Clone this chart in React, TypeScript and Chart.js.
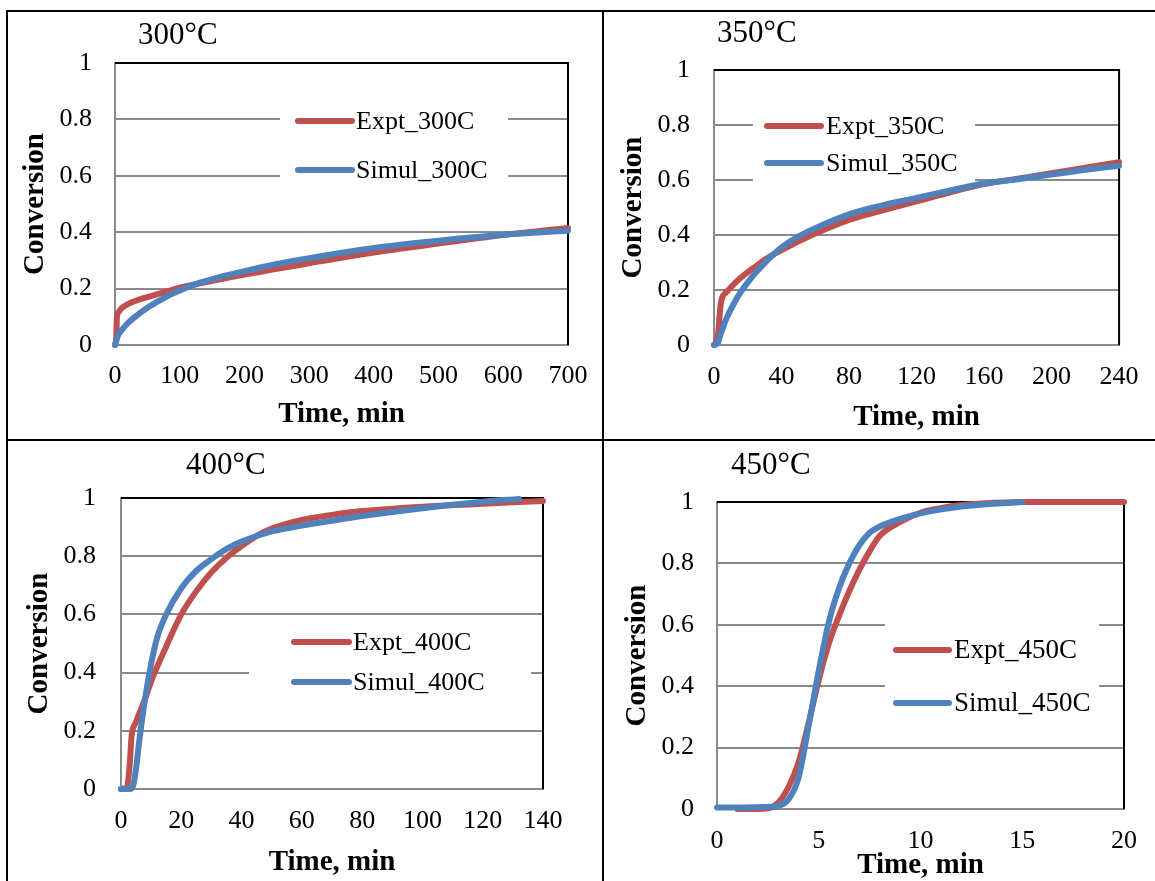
import React, { useEffect, useRef } from "react";
import { Chart, registerables } from "chart.js";

Chart.register(...registerables);

// ---------- DATA ----------
// 300 °C
const t300Expt = [0, 2, 3, 5, 10, 20, 30, 50, 80, 100, 130, 160, 200, 250, 300, 400, 500, 600, 700];
const v300Expt = [0, 0.03, 0.1, 0.115, 0.13, 0.145, 0.155, 0.17, 0.19, 0.203, 0.218, 0.232, 0.25, 0.27, 0.29, 0.328, 0.36, 0.39, 0.415];
const t300Sim = [0, 5, 10, 20, 30, 50, 80, 100, 130, 160, 200, 250, 300, 400, 500, 600, 700];
const v300Sim = [0, 0.035, 0.052, 0.078, 0.098, 0.132, 0.172, 0.193, 0.22, 0.24, 0.262, 0.287, 0.308, 0.344, 0.37, 0.391, 0.405];

// 350 °C
const t350Expt = [0, 2, 4, 5, 7, 10, 15, 20, 25, 30, 40, 60, 80, 100, 120, 140, 160, 180, 200, 220, 240];
const v350Expt = [0, 0.02, 0.15, 0.175, 0.19, 0.21, 0.24, 0.265, 0.287, 0.31, 0.345, 0.405, 0.455, 0.49, 0.522, 0.555, 0.585, 0.605, 0.625, 0.645, 0.665];
const t350Sim = [0, 2, 4, 6, 8, 10, 15, 20, 25, 30, 35, 40, 50, 60, 80, 100, 120, 140, 160, 180, 200, 220, 240];
const v350Sim = [0, 0.005, 0.04, 0.075, 0.105, 0.13, 0.185, 0.228, 0.265, 0.298, 0.328, 0.355, 0.395, 0.425, 0.475, 0.508, 0.535, 0.562, 0.587, 0.603, 0.62, 0.637, 0.652];

// 400 °C
const t400Expt = [0, 2, 3, 3.5, 5, 8, 10, 15, 20, 25, 30, 35, 40, 45, 50, 60, 70, 80, 100, 120, 140];
const v400Expt = [0, 0.005, 0.1, 0.18, 0.23, 0.31, 0.37, 0.49, 0.6, 0.68, 0.745, 0.795, 0.835, 0.87, 0.895, 0.925, 0.942, 0.955, 0.97, 0.98, 0.99];
const t400Sim = [0, 3, 4, 5, 6, 8, 10, 12, 15, 20, 25, 30, 35, 40, 50, 60, 70, 80, 100, 120, 132];
const v400Sim = [0, 0, 0.01, 0.07, 0.16, 0.31, 0.43, 0.52, 0.6, 0.69, 0.75, 0.79, 0.825, 0.85, 0.885, 0.905, 0.922, 0.938, 0.965, 0.987, 0.997];

// 450 °C
const t450Expt = [1, 2, 2.5, 3, 3.5, 4, 4.5, 5, 5.5, 6, 6.5, 7, 7.5, 8, 9, 10, 11, 12, 13, 15, 17, 20];
const v450Expt = [0, 0, 0.002, 0.02, 0.07, 0.15, 0.28, 0.42, 0.54, 0.63, 0.71, 0.78, 0.84, 0.89, 0.935, 0.965, 0.98, 0.99, 0.995, 1, 1, 1];
const t450Sim = [0, 1, 2, 3, 3.5, 4, 4.5, 5, 5.5, 6, 6.5, 7, 7.5, 8, 9, 10, 12, 15];
const v450Sim = [0.005, 0.005, 0.006, 0.01, 0.03, 0.1, 0.27, 0.45, 0.61, 0.72, 0.8, 0.86, 0.9, 0.92, 0.945, 0.963, 0.985, 1.0];

const panelTitles = ["300°C", "350°C", "400°C", "450°C"];
const exptLabels = ["Expt_300C", "Expt_350C", "Expt_400C", "Expt_450C"];
const simLabels = ["Simul_300C", "Simul_350C", "Simul_400C", "Simul_450C"];
const xMaxes = [700, 240, 140, 20];
const xSteps = [100, 40, 20, 5];
const yTickValues = [0, 0.2, 0.4, 0.6, 0.8, 1];
const xAxisTitle = "Time, min";
const yAxisTitle = "Conversion";

// ---------- STYLE ----------
const RED = "#C0504D";
const BLUE = "#4F81BD";
const GRID = "#8a8a8a";
const SERIF = "'Liberation Serif', 'Times New Roman', serif";
const TICK_SIZE = 26;
const AXIS_TITLE_SIZE = 29;
const LEGEND_SIZE = 26;
const TITLE_SIZE = 31;
const LINE_W = 6;

type PanelLayout = {
  left: number; top: number; w: number; h: number;
  plot: { left: number; right: number; top: number; bottom: number };
  titleX: number; titleY: number;
  yTitleX: number; xTitleY: number;
  yTickRight: number; xTickY: number;
  legendSize: number;
  legend: { box: [number, number, number, number]; y: [number, number]; lx1: number; lx2: number; tx: number };
};

const layouts: PanelLayout[] = [
  {
    left: 0, top: 0, w: 603, h: 440,
    plot: { left: 115, right: 568, top: 63, bottom: 345 },
    titleX: 138, titleY: 44, yTitleX: 36, xTitleY: 415, yTickRight: 92, xTickY: 376,
    legendSize: LEGEND_SIZE,
    legend: { box: [280, 96, 508, 195], y: [121, 170], lx1: 298, lx2: 352, tx: 356 },
  },
  {
    left: 603, top: 0, w: 552, h: 440,
    plot: { left: 111, right: 527, top: 70, bottom: 345 },
    titleX: 114, titleY: 42, yTitleX: 31, xTitleY: 418, yTickRight: 87, xTickY: 377,
    legendSize: LEGEND_SIZE,
    legend: { box: [150, 100, 372, 190], y: [126, 163], lx1: 164, lx2: 218, tx: 223 },
  },
  {
    left: 0, top: 440, w: 603, h: 441,
    plot: { left: 121, right: 543, top: 58, bottom: 349 },
    titleX: 186, titleY: 34, yTitleX: 40, xTitleY: 423, yTickRight: 96, xTickY: 381,
    legendSize: LEGEND_SIZE,
    legend: { box: [249, 180, 531, 265], y: [202, 242], lx1: 294, lx2: 349, tx: 353 },
  },
  {
    left: 603, top: 440, w: 552, h: 441,
    plot: { left: 114, right: 521, top: 62, bottom: 369 },
    titleX: 128, titleY: 34, yTitleX: 35, xTitleY: 426, yTickRight: 91, xTickY: 401,
    legendSize: 27,
    legend: { box: [282, 178, 496, 290], y: [210, 263], lx1: 293, lx2: 346, tx: 351 },
  },
];

const seriesT = [
  [t300Expt, t300Sim],
  [t350Expt, t350Sim],
  [t400Expt, t400Sim],
  [t450Expt, t450Sim],
];
const seriesV = [
  [v300Expt, v300Sim],
  [v350Expt, v350Sim],
  [v400Expt, v400Sim],
  [v450Expt, v450Sim],
];

const zip = (t: number[], v: number[]) => t.map((x, i) => ({ x, y: v[i] }));

const decoPlugin = {
  id: "panelDeco",
  beforeDatasetsDraw(chart: any, _args: any, opts: any) {
    const ctx = chart.ctx;
    const ca = chart.chartArea;
    ctx.save();
    // top & right frame of plot area
    ctx.strokeStyle = "#000";
    ctx.lineWidth = 2;
    ctx.beginPath();
    ctx.moveTo(ca.left, ca.top);
    ctx.lineTo(ca.right, ca.top);
    ctx.lineTo(ca.right, ca.bottom);
    ctx.stroke();
    // legend box
    const lg = opts.legend;
    ctx.fillStyle = "#fff";
    ctx.fillRect(lg.box[0], lg.box[1], lg.box[2] - lg.box[0], lg.box[3] - lg.box[1]);
    const ds = chart.data.datasets;
    ctx.font = `${opts.legendSize}px ${SERIF}`;
    ctx.textBaseline = "middle";
    ctx.textAlign = "left";
    for (let i = 0; i < 2; i++) {
      const y = lg.y[i];
      ctx.strokeStyle = ds[i].borderColor;
      ctx.lineWidth = LINE_W;
      ctx.lineCap = "round";
      ctx.beginPath();
      ctx.moveTo(lg.lx1, y);
      ctx.lineTo(lg.lx2, y);
      ctx.stroke();
      ctx.fillStyle = "#000";
      ctx.fillText(ds[i].label, lg.tx, y + 1);
    }
    // panel title
    ctx.font = `${TITLE_SIZE}px ${SERIF}`;
    ctx.textBaseline = "alphabetic";
    ctx.fillStyle = "#000";
    ctx.fillText(opts.title, opts.titleX, opts.titleY);
    ctx.restore();
  },
};

function makeConfig(idx: number): any {
  const L = layouts[idx];
  const tickLH = TICK_SIZE * 1.2;
  const titleLH = AXIS_TITLE_SIZE * 1.2;
  const [tE, tS] = seriesT[idx];
  const [vE, vS] = seriesV[idx];
  const common = {
    borderWidth: LINE_W,
    pointRadius: 0,
    pointHoverRadius: 0,
    cubicInterpolationMode: "monotone",
    clip: false,
    borderCapStyle: "round",
    borderJoinStyle: "round",
    fill: false,
  };
  return {
    type: "line",
    data: {
      datasets: [
        { ...common, label: exptLabels[idx], data: zip(tE, vE), borderColor: RED, backgroundColor: RED, order: 1 },
        { ...common, label: simLabels[idx], data: zip(tS, vS), borderColor: BLUE, backgroundColor: BLUE, order: 0 },
      ],
    },
    plugins: [decoPlugin],
    options: {
      responsive: false,
      animation: false,
      events: [],
      layout: { padding: { left: 0, top: L.plot.top, right: L.w - L.plot.right, bottom: 0 } },
      plugins: {
        legend: { display: false },
        tooltip: { enabled: false },
        title: { display: false },
        panelDeco: {
          legend: L.legend,
          legendSize: L.legendSize,
          title: panelTitles[idx],
          titleX: L.titleX,
          titleY: L.titleY,
        },
      },
      scales: {
        x: {
          type: "linear",
          min: 0,
          max: xMaxes[idx],
          ticks: {
            stepSize: xSteps[idx],
            autoSkip: false,
            maxRotation: 0,
            color: "#000",
            font: { family: SERIF, size: TICK_SIZE },
            padding: L.xTickY - L.plot.bottom - tickLH / 2,
          },
          grid: { display: false, drawTicks: false },
          border: { display: true, color: GRID, width: 2 },
          title: {
            display: true,
            text: xAxisTitle,
            color: "#000",
            font: { family: SERIF, size: AXIS_TITLE_SIZE, weight: "bold" },
            padding: { top: 0, bottom: L.h - L.xTitleY - titleLH / 2 },
          },
          afterFit: (s: any) => {
            s.height = L.h - L.plot.bottom;
          },
        },
        y: {
          type: "linear",
          min: 0,
          max: 1,
          afterBuildTicks: (s: any) => {
            s.ticks = yTickValues.map((value) => ({ value }));
          },
          ticks: {
            color: "#000",
            font: { family: SERIF, size: TICK_SIZE },
            padding: L.plot.left - L.yTickRight,
            callback: (v: any) => String(+Number(v).toFixed(1)),
          },
          grid: { display: true, color: GRID, lineWidth: 2, drawTicks: false },
          border: { display: true, color: GRID, width: 2 },
          title: {
            display: true,
            text: yAxisTitle,
            color: "#000",
            font: { family: SERIF, size: AXIS_TITLE_SIZE, weight: "bold" },
            padding: { top: L.yTitleX - titleLH / 2, bottom: 0 },
          },
          afterFit: (s: any) => {
            s.width = L.plot.left;
          },
        },
      },
    },
  };
}

function Panel({ idx }: { idx: number }) {
  const ref = useRef<HTMLCanvasElement>(null);
  const L = layouts[idx];
  useEffect(() => {
    const chart = new Chart(ref.current as HTMLCanvasElement, makeConfig(idx));
    return () => chart.destroy();
  }, [idx]);
  return (
    <canvas
      ref={ref}
      width={L.w}
      height={L.h}
      style={{ position: "absolute", left: L.left, top: L.top, width: L.w, height: L.h }}
    />
  );
}

const lineStyle = (left: number, top: number, width: number, height: number): React.CSSProperties => ({
  position: "absolute",
  left,
  top,
  width,
  height,
  background: "#000",
  zIndex: 2,
});

export default function App() {
  return (
    <div
      style={{
        position: "absolute",
        left: 0,
        top: 0,
        width: 1155,
        height: 881,
        overflow: "hidden",
        background: "#fff",
      }}
    >
      {[0, 1, 2, 3].map((i) => (
        <Panel key={i} idx={i} />
      ))}
      <div style={lineStyle(6, 10, 1149, 2)} />
      <div style={lineStyle(6, 10, 2, 871)} />
      <div style={lineStyle(602, 10, 2, 871)} />
      <div style={lineStyle(6, 439, 1149, 2)} />
    </div>
  );
}
